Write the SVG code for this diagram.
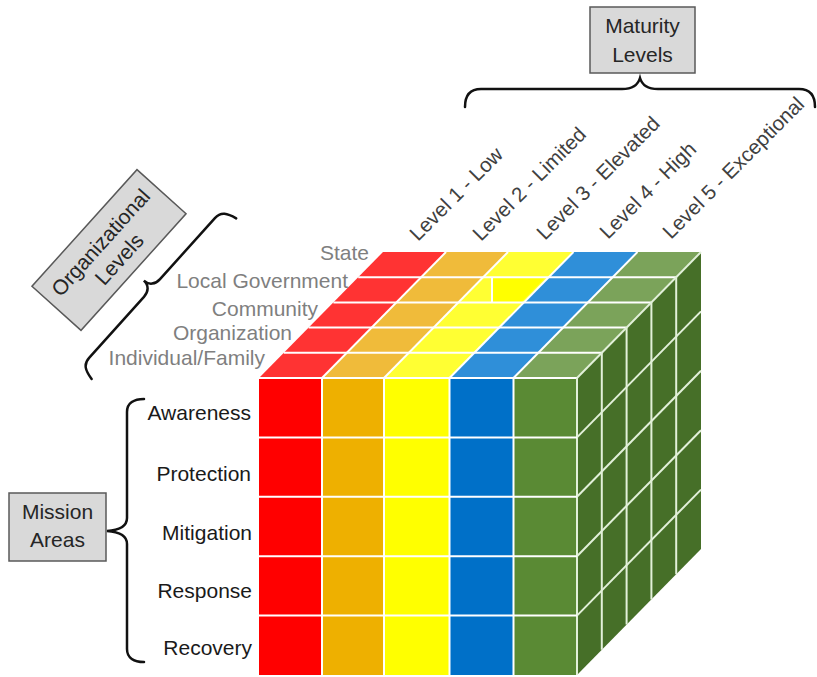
<svg xmlns="http://www.w3.org/2000/svg" width="817" height="677" viewBox="0 0 817 677">
<style>
.lbl{font-family:"Liberation Sans",Arial,sans-serif;}
.org{font-size:21px;fill:#7F7F7F;text-anchor:end;}
.mis{font-size:21px;fill:#1A1A1A;text-anchor:end;}
.lvl{font-size:20.5px;fill:#404040;}
.box{fill:#D9D9D9;stroke:#595959;stroke-width:1.5;}
.boxt{font-size:21px;fill:#262626;text-anchor:middle;}
.brace{fill:none;stroke:#111;stroke-width:2.5;stroke-linecap:round;}
.grid{stroke:#FFFFFF;stroke-width:2;fill:none;}
.gridg{stroke:#E2F0D9;stroke-width:2;fill:none;}
</style>
<rect width="817" height="677" fill="#FFFFFF"/>

<g id="cube">
  <!-- top faces -->
  <polygon points="259,378 322,378 446,252 383,252" fill="#FF3333"/>
  <polygon points="322,378 384,378 508,252 446,252" fill="#F0BB3A"/>
  <polygon points="384,378 449.5,378 573.5,252 508,252" fill="#FFFF33"/>
  <polygon points="449.5,378 513.5,378 637.5,252 573.5,252" fill="#2F8FD9"/>
  <polygon points="513.5,378 577,378 701,252 637.5,252" fill="#7BA35A"/>
  <!-- odd yellow patch -->
  <polygon points="492,277.2 545.7,277.2 520.8,302.4 492,302.4" fill="#FFFF00"/>
  <line x1="492" y1="277.2" x2="492" y2="302.4" class="grid"/>
  <!-- front faces -->
  <rect x="259" y="378" width="63" height="297" fill="#FF0000"/>
  <rect x="322" y="378" width="62" height="297" fill="#EEB000"/>
  <rect x="384" y="378" width="65.5" height="297" fill="#FFFF00"/>
  <rect x="449.5" y="378" width="64" height="297" fill="#0070C8"/>
  <rect x="513.5" y="378" width="63.5" height="297" fill="#5A8A34"/>
  <!-- right face -->
  <polygon points="577,378 701,252 701,549 577,675" fill="#466F28"/>
</g>

<g id="connectors">
  <!-- top face row lines -->
  <line x1="259" y1="378" x2="577" y2="378" class="grid"/>
  <line x1="283.8" y1="352.8" x2="601.8" y2="352.8" class="grid"/>
  <line x1="308.6" y1="327.6" x2="626.6" y2="327.6" class="grid"/>
  <line x1="333.4" y1="302.4" x2="651.4" y2="302.4" class="grid"/>
  <line x1="358.2" y1="277.2" x2="676.2" y2="277.2" class="grid"/>
  <!-- top face column lines -->
  <line x1="322" y1="378" x2="446" y2="252" class="grid"/>
  <line x1="384" y1="378" x2="508" y2="252" class="grid"/>
  <line x1="449.5" y1="378" x2="573.5" y2="252" class="grid"/>
  <line x1="513.5" y1="378" x2="637.5" y2="252" class="grid"/>
  <line x1="577" y1="378" x2="701" y2="252" class="gridg"/>
  <!-- front verticals -->
  <line x1="322" y1="378" x2="322" y2="675" class="grid"/>
  <line x1="384" y1="378" x2="384" y2="675" class="grid"/>
  <line x1="449.5" y1="378" x2="449.5" y2="675" class="grid"/>
  <line x1="513.5" y1="378" x2="513.5" y2="675" class="grid"/>
  <line x1="577" y1="378" x2="577" y2="675" class="gridg"/>
  <!-- front horizontals -->
  <line x1="259" y1="437.4" x2="577" y2="437.4" class="grid"/>
  <line x1="259" y1="496.8" x2="577" y2="496.8" class="grid"/>
  <line x1="259" y1="556.2" x2="577" y2="556.2" class="grid"/>
  <line x1="259" y1="615.6" x2="577" y2="615.6" class="grid"/>
  <!-- right face verticals -->
  <line x1="601.8" y1="352.8" x2="601.8" y2="649.8" class="gridg"/>
  <line x1="626.6" y1="327.6" x2="626.6" y2="624.6" class="gridg"/>
  <line x1="651.4" y1="302.4" x2="651.4" y2="599.4" class="gridg"/>
  <line x1="676.2" y1="277.2" x2="676.2" y2="574.2" class="gridg"/>
  <!-- right face slanted rows -->
  <line x1="577" y1="437.4" x2="701" y2="311.4" class="gridg"/>
  <line x1="577" y1="496.8" x2="701" y2="370.8" class="gridg"/>
  <line x1="577" y1="556.2" x2="701" y2="430.2" class="gridg"/>
  <line x1="577" y1="615.6" x2="701" y2="489.6" class="gridg"/>
</g>

<g id="maturity-levels">
  <rect x="590" y="7" width="105" height="66" class="box"/>
  <text class="lbl boxt" x="642.5" y="33">Maturity</text>
  <text class="lbl boxt" x="642.5" y="62">Levels</text>
  <path class="brace" stroke-width="3" d="M465,107 C465,95 470,89 481,89 L622,89 C632,89 638,85 640,78 C642,85 648,89 658,89 L799,89 C810,89 815,95 815,107"/>
</g>

<g id="level-labels">
  <text class="lbl lvl" transform="translate(418,242) rotate(-45)">Level 1 - Low</text>
  <text class="lbl lvl" transform="translate(481,242) rotate(-45)">Level 2 - Limited</text>
  <text class="lbl lvl" transform="translate(545,241) rotate(-45)">Level 3 - Elevated</text>
  <text class="lbl lvl" transform="translate(608,240) rotate(-45)">Level 4 - High</text>
  <text class="lbl lvl" transform="translate(671,240) rotate(-45)">Level 5 - Exceptional</text>
</g>

<g id="organizational-levels">
  <g transform="translate(109,250) rotate(-48)">
    <rect x="-78.5" y="-33" width="157" height="66" class="box"/>
    <text class="lbl boxt" x="0" y="-4">Organizational</text>
    <text class="lbl boxt" x="0" y="21">Levels</text>
  </g>
  <path class="brace" transform="translate(152,288) rotate(42)" d="M16,-108 C6,-106 0,-103 0,-94 L0,-12 C0,-5 -4,0 -11,0 C-4,0 0,5 0,12 L0,94 C0,103 6,106 16,108"/>
</g>

<g id="org-labels">
  <text class="lbl org" x="369" y="260">State</text>
  <text class="lbl org" x="348" y="288">Local Government</text>
  <text class="lbl org" x="318" y="316">Community</text>
  <text class="lbl org" x="292" y="340">Organization</text>
  <text class="lbl org" x="265" y="365">Individual/Family</text>
</g>

<g id="mission-areas">
  <rect x="9" y="493" width="97" height="68" class="box"/>
  <text class="lbl boxt" x="57.5" y="519">Mission</text>
  <text class="lbl boxt" x="57.5" y="547">Areas</text>
  <path class="brace" d="M144,399 C134,399 127,403 127,412 L127,518 C127,526 121,530 107,531 C121,532 127,536 127,544 L127,649 C127,658 134,662 144,662"/>
</g>

<g id="mission-labels">
  <text class="lbl mis" x="251" y="420">Awareness</text>
  <text class="lbl mis" x="251" y="481">Protection</text>
  <text class="lbl mis" x="252" y="540">Mitigation</text>
  <text class="lbl mis" x="252" y="598">Response</text>
  <text class="lbl mis" x="252" y="655">Recovery</text>
</g>
</svg>
